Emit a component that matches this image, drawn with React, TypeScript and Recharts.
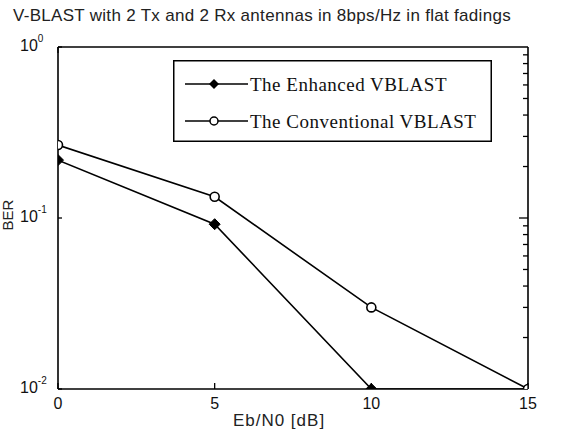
import React from 'react';
import { LineChart, Line, XAxis, YAxis, Legend } from 'recharts';

const ebn0 = [0, 5, 10, 15];
const enhancedBer = [0.218, 0.092, 0.01, 0.01];
const conventionalBer = [0.267, 0.133, 0.03, 0.01];
const xTicks = [0, 5, 10, 15];
const yMajorTicks = [0.01, 0.1, 1];
const yMinorTicks = [0.02, 0.03, 0.04, 0.05, 0.06, 0.07, 0.08, 0.09, 0.1, 0.2, 0.3, 0.4, 0.5, 0.6, 0.7, 0.8, 0.9];
const seriesNames = ['The Enhanced VBLAST', 'The Conventional VBLAST'];
const titleText = 'V-BLAST with 2 Tx  and 2 Rx antennas in 8bps/Hz in flat fadings';
const xLabel = 'Eb/N0 [dB]';
const yLabel = 'BER';

const data = ebn0.map((x, i) => ({ x, enhanced: enhancedBer[i], conventional: conventionalBer[i] }));

const SANS = '"Liberation Sans", Arial, sans-serif';
const SERIF = '"Liberation Serif", "Times New Roman", serif';

const LeftTick = (props: any) => {
  const { x, y, payload } = props;
  const exp = Math.round(Math.log10(payload.value));
  return (
    <g>
      <line x1={x} x2={x + 4} y1={y} y2={y} stroke="#000" strokeWidth={1.3} />
      <text x={x - 38} y={y + 4} fontFamily={SANS} fontSize={16} fill="#111">
        10<tspan dy={-9} fontSize={10}>{exp}</tspan>
      </text>
    </g>
  );
};

const BottomTick = (props: any) => {
  const { x, y, payload } = props;
  return (
    <g>
      <line x1={x} x2={x} y1={y} y2={y - 6} stroke="#000" strokeWidth={1.3} />
      <text x={x} y={y + 20} textAnchor="middle" fontFamily={SANS} fontSize={16} fill="#111">
        {payload.value}
      </text>
    </g>
  );
};

const TopTick = (props: any) => {
  const { x, y } = props;
  return <line x1={x} x2={x} y1={y} y2={y + 6} stroke="#000" strokeWidth={1.3} />;
};

const RightTick = (props: any) => {
  const { x, y, payload } = props;
  const len = Math.abs(payload.value - 0.1) < 1e-9 ? 9 : 5;
  return <line x1={x} x2={x - len} y1={y} y2={y} stroke="#000" strokeWidth={1.3} />;
};

const DiamondDot = (props: any) => {
  const { cx, cy, index } = props;
  if (cx == null || cy == null) return <g key={`dd-${index}`} />;
  const s = 5.5;
  return (
    <path
      key={`dd-${index}`}
      d={`M${cx},${cy - s}L${cx + s},${cy}L${cx},${cy + s}L${cx - s},${cy}Z`}
      fill="#000"
      stroke="#000"
      strokeWidth={1}
    />
  );
};

const CircleDot = (props: any) => {
  const { cx, cy, index } = props;
  if (cx == null || cy == null) return <g key={`cd-${index}`} />;
  return <circle key={`cd-${index}`} cx={cx} cy={cy} r={4.5} fill="#fff" stroke="#000" strokeWidth={1.6} />;
};

const LegendBox = () => (
  <svg width={319} height={82} style={{ display: 'block' }}>
    <rect x={0.75} y={0.75} width={317.5} height={80.5} fill="#fff" stroke="#000" strokeWidth={1.5} />
    {seriesNames.map((name, i) => {
      const cy = i === 0 ? 24 : 61;
      return (
        <g key={name}>
          <line x1={12} x2={75} y1={cy} y2={cy} stroke="#000" strokeWidth={1.5} />
          {i === 0 ? (
            <path d={`M41,${cy - 5}L46,${cy}L41,${cy + 5}L36,${cy}Z`} fill="#000" />
          ) : (
            <circle cx={41} cy={cy} r={4} fill="#fff" stroke="#000" strokeWidth={1.5} />
          )}
          <text x={77} y={cy + 6.5} fontFamily={SERIF} fontSize={19} letterSpacing={0.5} fill="#111">
            {name}
          </text>
        </g>
      );
    })}
  </svg>
);

export default function App() {
  return (
    <div style={{ position: 'absolute', left: 0, top: 0, width: 573, height: 436, background: '#fff' }}>
      <LineChart width={573} height={436} data={data} margin={{ top: 46, right: 0, bottom: 0, left: 0 }}>
        <XAxis
          dataKey="x"
          type="number"
          domain={[0, 15]}
          ticks={xTicks}
          interval={0}
          height={47}
          tickSize={0}
          tickMargin={0}
          tickLine={false}
          axisLine={{ stroke: '#000', strokeWidth: 1.6 }}
          tick={<BottomTick />}
          allowDataOverflow
        />
        <XAxis
          xAxisId="top"
          orientation="top"
          type="number"
          domain={[0, 15]}
          ticks={xTicks}
          interval={0}
          height={1}
          tickSize={0}
          tickMargin={0}
          tickLine={false}
          axisLine={{ stroke: '#000', strokeWidth: 1.6 }}
          tick={<TopTick />}
          allowDataOverflow
        />
        <YAxis
          scale="log"
          type="number"
          domain={[0.01, 1]}
          ticks={yMajorTicks}
          interval={0}
          width={58}
          tickSize={0}
          tickMargin={0}
          tickLine={false}
          axisLine={{ stroke: '#000', strokeWidth: 1.6 }}
          tick={<LeftTick />}
          allowDataOverflow
        />
        <YAxis
          yAxisId="right"
          orientation="right"
          scale="log"
          type="number"
          domain={[0.01, 1]}
          ticks={yMinorTicks}
          interval={0}
          width={45}
          tickSize={0}
          tickMargin={0}
          tickLine={false}
          axisLine={{ stroke: '#000', strokeWidth: 1.6 }}
          tick={<RightTick />}
          allowDataOverflow
        />
        <Legend
          layout="vertical"
          align="center"
          verticalAlign="middle"
          wrapperStyle={{ left: 173, top: 60, width: 319, height: 82 }}
          content={() => <LegendBox />}
        />
        <Line
          type="linear"
          dataKey="enhanced"
          name={seriesNames[0]}
          stroke="#000"
          strokeWidth={1.6}
          dot={DiamondDot}
          activeDot={false}
          isAnimationActive={false}
        />
        <Line
          type="linear"
          dataKey="conventional"
          name={seriesNames[1]}
          stroke="#000"
          strokeWidth={1.6}
          dot={CircleDot}
          activeDot={false}
          isAnimationActive={false}
        />
      </LineChart>
      <svg
        width={573}
        height={436}
        style={{ position: 'absolute', left: 0, top: 0, pointerEvents: 'none' }}
      >
        <text x={262} y={21} textAnchor="middle" fontFamily={SANS} fontSize={17} letterSpacing={0.3} fill="#222">
          {titleText}
        </text>
        <text x={279} y={426} textAnchor="middle" fontFamily={SANS} fontSize={17} letterSpacing={1} fill="#222">
          {xLabel}
        </text>
        <text transform="translate(13,215) rotate(-90)" textAnchor="middle" fontFamily={SANS} fontSize={15} fill="#222">
          {yLabel}
        </text>
      </svg>
    </div>
  );
}
